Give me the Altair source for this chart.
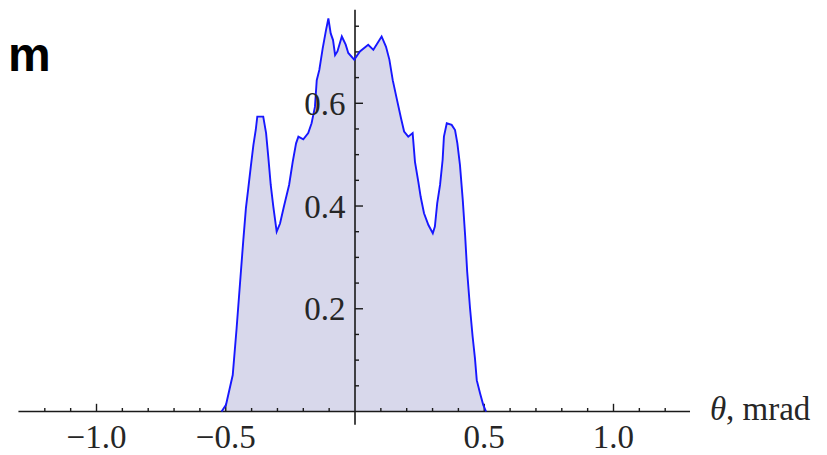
import altair as alt
import pandas as pd

# ---- data ----
theta = [-0.516, -0.499, -0.473, -0.458, -0.441, -0.432, -0.422, -0.413, -0.403, -0.393,
         -0.384, -0.378, -0.355, -0.344, -0.335, -0.326, -0.316, -0.303, -0.290, -0.275,
         -0.255, -0.241, -0.228, -0.219, -0.200, -0.181, -0.168, -0.155, -0.148, -0.138,
         -0.125, -0.112, -0.103, -0.094, -0.085, -0.077, -0.068, -0.051, -0.036, -0.026,
         -0.003, 0.019, 0.051, 0.071, 0.103, 0.120, 0.133, 0.146, 0.161, 0.178,
         0.190, 0.206, 0.223, 0.232, 0.245, 0.254, 0.267, 0.284, 0.301, 0.309,
         0.318, 0.329, 0.339, 0.344, 0.355, 0.374, 0.387, 0.396, 0.406, 0.417,
         0.426, 0.434, 0.445, 0.455, 0.464, 0.471, 0.484, 0.496, 0.507]
intensity = [0.0, 0.013, 0.071, 0.162, 0.275, 0.334, 0.396, 0.434, 0.477, 0.519,
             0.548, 0.574, 0.574, 0.542, 0.493, 0.441, 0.399, 0.350, 0.366, 0.399,
             0.441, 0.486, 0.522, 0.535, 0.530, 0.542, 0.561, 0.593, 0.645, 0.665,
             0.707, 0.743, 0.765, 0.736, 0.723, 0.694, 0.701, 0.730, 0.714, 0.698,
             0.685, 0.701, 0.714, 0.704, 0.730, 0.710, 0.685, 0.645, 0.610, 0.571,
             0.545, 0.535, 0.542, 0.486, 0.447, 0.418, 0.386, 0.363, 0.347, 0.360,
             0.405, 0.441, 0.490, 0.535, 0.561, 0.558, 0.548, 0.522, 0.480, 0.411,
             0.343, 0.272, 0.201, 0.146, 0.104, 0.061, 0.035, 0.013, 0.0]

x_major = [-1.0, -0.5, 0.5, 1.0]
x_major_labels = ["\u22121.0", "\u22120.5", "0.5", "1.0"]
x_minor = [-1.2, -1.1, -0.9, -0.8, -0.7, -0.6, -0.4, -0.3, -0.2, -0.1,
           0.1, 0.2, 0.3, 0.4, 0.6, 0.7, 0.8, 0.9, 1.1, 1.2]
y_major = [0.2, 0.4, 0.6]
y_major_labels = ["0.2", "0.4", "0.6"]
y_minor = [0.05, 0.1, 0.15, 0.25, 0.3, 0.35, 0.45, 0.5, 0.55, 0.65, 0.7, 0.75]
x_axis_span = [-1.302, 1.296]
y_axis_span = [-0.026, 0.782]
axis_title = ["\u03b8", ", mrad"]
panel_title = ["m"]

# ---- layout ----
W, H = 811, 447
xs = alt.Scale(domain=[-1.3424, 1.7950], nice=False, zero=False)
ys = alt.Scale(domain=[-(H - 403.5) / 513.7, 403.5 / 513.7], nice=False, zero=False)
AX = "#1a1a1a"
TXT = "#262626"
FONT = "Liberation Serif"
FS = 33


def X(f):
    return alt.X(f, type="quantitative", scale=xs, axis=None)


def Y(f):
    return alt.Y(f, type="quantitative", scale=ys, axis=None)


curve = pd.DataFrame({"theta": theta, "I": intensity})

area = alt.Chart(curve).mark_area(color="#d8d8eb", opacity=1).encode(
    x=X("theta"), y=Y("I"), y2=alt.datum(0)
)
line = alt.Chart(curve).mark_line(color="#1717ff", strokeWidth=1.9).encode(
    x=X("theta"), y=Y("I")
)

xaxis = alt.Chart(pd.DataFrame({"a": [x_axis_span[0]], "b": [x_axis_span[1]]})).mark_rule(
    color=AX, strokeWidth=1.6
).encode(x=X("a"), x2="b", y=alt.YDatum(0, scale=ys, axis=None))

yaxis = alt.Chart(pd.DataFrame({"a": [y_axis_span[0]], "b": [y_axis_span[1]]})).mark_rule(
    color=AX, strokeWidth=1.6
).encode(y=Y("a"), y2="b", x=alt.XDatum(0, scale=xs, axis=None))

xmaj = pd.DataFrame({"v": x_major, "lab": x_major_labels})
ymaj = pd.DataFrame({"v": y_major, "lab": y_major_labels})

xt_major = alt.Chart(xmaj).mark_rule(color=AX, strokeWidth=1.4, y2Offset=-7.7).encode(
    x=X("v"), y=alt.YDatum(0, scale=ys, axis=None), y2=alt.datum(0)
)
xt_minor = alt.Chart(pd.DataFrame({"v": x_minor})).mark_rule(color=AX, strokeWidth=1.4, y2Offset=-3.5).encode(
    x=X("v"), y=alt.YDatum(0, scale=ys, axis=None), y2=alt.datum(0)
)
yt_major = alt.Chart(ymaj).mark_rule(color=AX, strokeWidth=1.4, x2Offset=8).encode(
    y=Y("v"), x=alt.XDatum(0, scale=xs, axis=None), x2=alt.datum(0)
)
yt_minor = alt.Chart(pd.DataFrame({"v": y_minor})).mark_rule(color=AX, strokeWidth=1.4, x2Offset=4).encode(
    y=Y("v"), x=alt.XDatum(0, scale=xs, axis=None), x2=alt.datum(0)
)

x_labels = alt.Chart(xmaj).mark_text(
    font=FONT, fontSize=FS, align="center", baseline="alphabetic", dy=36, color=TXT
).encode(x=X("v"), y=alt.YDatum(0, scale=ys, axis=None), text="lab:N")

y_labels = alt.Chart(ymaj).mark_text(
    font=FONT, fontSize=FS, align="right", baseline="alphabetic", dx=-9.5, dy=11.7, color=TXT
).encode(y=Y("v"), x=alt.XDatum(0, scale=xs, axis=None), text="lab:N")

theta_lbl = alt.Chart(pd.DataFrame({"t": [axis_title[0]]})).mark_text(
    font=FONT, fontSize=FS, fontStyle="italic", align="left", baseline="alphabetic",
    dx=20, dy=8.5, color=TXT
).encode(x=alt.XDatum(x_axis_span[1], scale=xs, axis=None), y=alt.YDatum(0, scale=ys, axis=None), text="t:N")

unit_lbl = alt.Chart(pd.DataFrame({"t": [axis_title[1]]})).mark_text(
    font=FONT, fontSize=FS, align="left", baseline="alphabetic",
    dx=36, dy=8.5, color=TXT
).encode(x=alt.XDatum(x_axis_span[1], scale=xs, axis=None), y=alt.YDatum(0, scale=ys, axis=None), text="t:N")

title_m = alt.Chart(pd.DataFrame({"t": panel_title})).mark_text(
    font="Liberation Sans", fontWeight="bold", fontSize=48, align="left",
    baseline="alphabetic", color="#000000"
).encode(x=alt.value(0), y=alt.value(62.7), text="t:N")

chart = alt.layer(
    area, xaxis, yaxis, xt_major, xt_minor, yt_major, yt_minor, line,
    x_labels, y_labels, theta_lbl, unit_lbl, title_m
).properties(
    width=W, height=H, autosize=alt.AutoSizeParams(type="none"), padding=0
).configure_view(stroke=None)

chart.save("out.html", embed_options={"renderer": "svg", "actions": False})
